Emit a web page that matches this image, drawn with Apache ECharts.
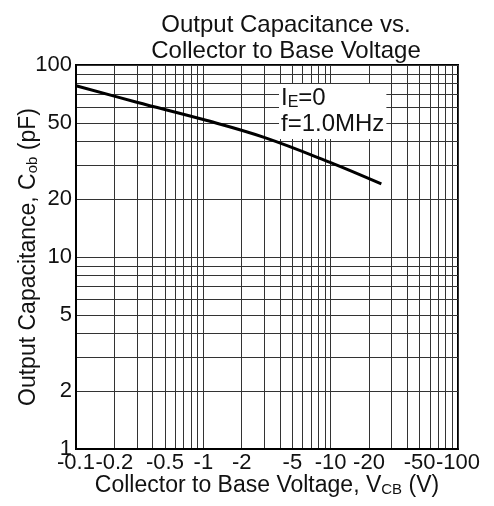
<!DOCTYPE html>
<html>
<head>
<meta charset="utf-8">
<script src="https://cdn.jsdelivr.net/npm/echarts@6/dist/echarts.min.js"></script>
<style>
html,body{margin:0;padding:0;background:#fff;}
#c{width:494px;height:506px;}
</style>
</head>
<body>
<div id="c"></div>
<script>
// |V_CB| in volts (axis labels show the negative sign)
const vcbMagnitude = [0.1, 0.3, 1, 3, 10, 25];
// Output capacitance Cob in pF
const cobPF = [78, 64, 52, 42, 31, 24];

const xGridValues = [0.1,0.2,0.3,0.4,0.5,0.6,0.7,0.8,0.9,1,2,3,4,5,6,7,8,9,10,20,30,40,50,60,70,80,90,100];
const xLabelValues = [0.1,0.2,0.5,1,2,5,10,20,50,100];
const yGridValues = [1,2,3,4,5,6,7,8,9,10,20,30,40,50,60,70,80,90,100];
const yLabelValues = [1,2,5,10,20,50,100];

const FONT = 'Liberation Sans, Arial, Helvetica, sans-serif';
const chart = echarts.init(document.getElementById('c'), null, {renderer: 'canvas'});
const fmt = v => String(+(+v).toPrecision(3));
const subStyle = {fontFamily: FONT, fontSize: 15, color: '#111', verticalAlign: 'bottom', padding: [8,0,0,0]};

chart.setOption({
  animation: false,
  backgroundColor: '#fff',
  title: {
    text: 'Output Capacitance vs.\nCollector to Base Voltage',
    left: 281, top: 7, textAlign: 'center',
    textStyle: {fontFamily: FONT, fontSize: 24, fontWeight: 'normal', color: '#111', lineHeight: 26}
  },
  grid: {left: 76, right: 36, top: 65, bottom: 57, show: true, borderColor: '#000', borderWidth: 2,
    containLabel: false, outerBoundsMode: 'none'},
  xAxis: {
    type: 'log', logBase: 10, min: 0.1, max: 100,
    name: 'Collector to Base Voltage, V{sub|CB} (V)',
    nameLocation: 'middle', nameGap: 25, nameMoveOverlap: false,
    nameTextStyle: {fontFamily: FONT, fontSize: 23, color: '#111', rich: {sub: subStyle}},
    axisLine: {show: true, lineStyle: {color: '#000', width: 2}},
    axisTick: {show: false, customValues: xGridValues},
    axisLabel: {customValues: xLabelValues, formatter: v => '-' + fmt(v), fontFamily: FONT, fontSize: 22, color: '#111', margin: 3,
      showMinLabel: true, showMaxLabel: true, hideOverlap: false},
    splitLine: {show: true, lineStyle: {color: '#333', width: 1}},
    minorTick: {show: false}
  },
  yAxis: {
    type: 'log', logBase: 10, min: 1, max: 100,
    name: 'Output Capacitance, C{sub|ob} (pF)',
    nameLocation: 'middle', nameGap: 36, nameRotate: 90, nameMoveOverlap: false,
    nameTextStyle: {fontFamily: FONT, fontSize: 23, color: '#111', rich: {sub: subStyle}},
    axisLine: {show: true, lineStyle: {color: '#000', width: 2}},
    axisTick: {show: false, customValues: yGridValues},
    axisLabel: {customValues: yLabelValues, formatter: v => fmt(v), fontFamily: FONT, fontSize: 22, color: '#111', margin: 4,
      showMinLabel: true, showMaxLabel: true, hideOverlap: false},
    splitLine: {show: true, lineStyle: {color: '#333', width: 1}}
  },
  graphic: [{
    type: 'text', left: 279, top: 84, z: 100,
    style: {
      text: 'I{sub|E}=0\nf=1.0MHz',
      fontFamily: FONT, fontSize: 24, fill: '#111', lineHeight: 26,
      backgroundColor: '#fff', padding: [1, 2, 2, 2],
      rich: {sub: {fontFamily: FONT, fontSize: 16, fill: '#111', verticalAlign: 'bottom', padding: [8,0,0,0]}}
    }
  }],
  series: [{
    type: 'line',
    data: vcbMagnitude.map((v, i) => [v, cobPF[i]]),
    showSymbol: false, smooth: 0.4,
    lineStyle: {color: '#000', width: 3},
    z: 5
  }]
});
</script>
</body>
</html>
